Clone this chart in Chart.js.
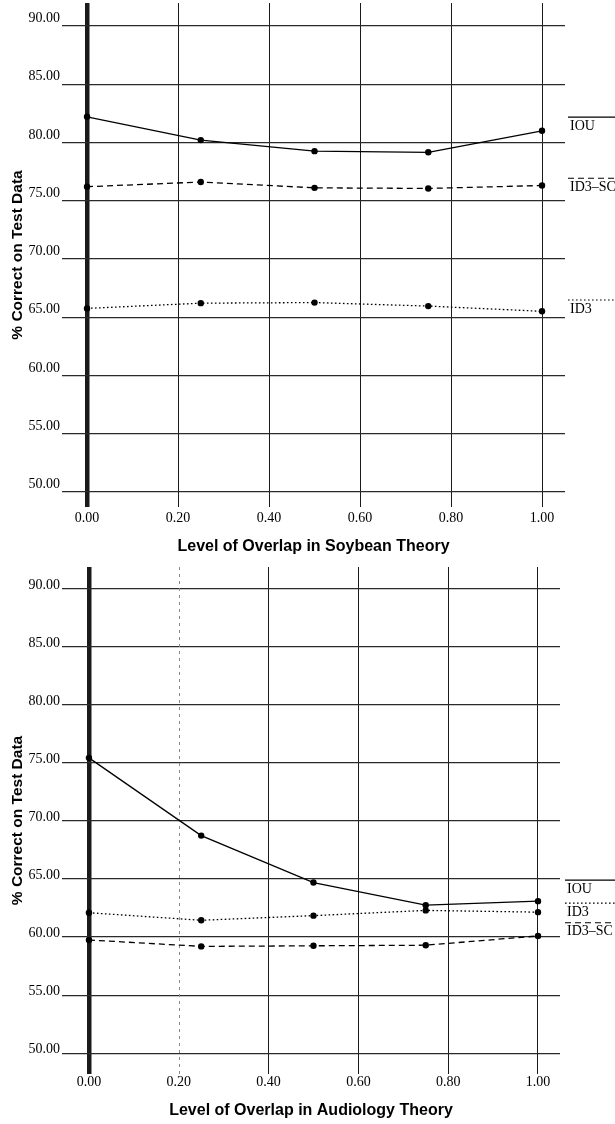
<!DOCTYPE html>
<html><head><meta charset="utf-8">
<script src="https://cdn.jsdelivr.net/npm/chart.js@4.4.1/dist/chart.umd.min.js"></script>
<style>
html,body{margin:0;padding:0;background:#fff;}
canvas{position:absolute;left:0;}
#c1{top:0;}
#c2{top:560px;}
</style></head><body>
<canvas id="c1" width="615" height="560"></canvas>
<canvas id="c2" width="615" height="564"></canvas>
<script>
// ---- data ----
const overlapLevels = [0, 0.25, 0.5, 0.75, 1.0];
const soybeanIOU    = [82.2, 80.2, 79.25, 79.15, 81.0];
const soybeanID3SC  = [76.2, 76.6, 76.1, 76.05, 76.3];
const soybeanID3    = [65.75, 66.2, 66.25, 65.95, 65.5];
const audiologyIOU   = [75.45, 68.75, 64.7, 62.75, 63.1];
const audiologyID3   = [62.1, 61.45, 61.85, 62.3, 62.15];
const audiologyID3SC = [59.75, 59.2, 59.25, 59.3, 60.1];
const xTickValues = [0, 0.2, 0.4, 0.6, 0.8, 1.0];
const yTickValues = [50, 55, 60, 65, 70, 75, 80, 85, 90];
const yAxisTitle = '% Correct on Test Data';
const soybeanTitle = 'Level of Overlap in Soybean Theory';
const audiologyTitle = 'Level of Overlap in Audiology Theory';

// ---- styles ----
const lineDash = { 'IOU': [], 'ID3–SC': [6, 4], 'ID3': [1.6, 2.4] };
const SERIF = '"Liberation Serif", "Times New Roman", serif';
const SANS = '"Liberation Sans", Arial, sans-serif';

function makeDataset(label, values) {
  return {
    label,
    data: overlapLevels.map((x, i) => ({ x, y: values[i] })),
    borderColor: '#000', backgroundColor: '#000',
    borderWidth: 1.3, borderDash: lineDash[label],
    pointRadius: 3.2, pointHoverRadius: 3.2,
    pointBackgroundColor: '#000', pointBorderWidth: 0,
    tension: 0, fill: false
  };
}

const sideLabels = {
  id: 'sideLabels',
  afterDraw(chart, args, opts) {
    const { ctx, chartArea, scales: { y } } = chart;
    ctx.save();
    chart.data.datasets.forEach((ds, i) => {
      const cy = y.getPixelForValue(opts.at[i]);
      const x0 = chartArea.right + opts.gap;
      ctx.strokeStyle = '#000'; ctx.lineWidth = 1.2;
      ctx.setLineDash(ds.borderDash || []);
      ctx.beginPath(); ctx.moveTo(x0, cy - 9); ctx.lineTo(chart.width, cy - 9); ctx.stroke();
      ctx.setLineDash([]);
      ctx.fillStyle = '#000';
      ctx.font = '14px ' + SERIF;
      ctx.textBaseline = 'middle'; ctx.textAlign = 'left';
      ctx.fillText(ds.label, x0 + 2, cy);
    });
    ctx.restore();
  }
};

const faintGrid = {
  id: 'faintGrid',
  beforeDatasetsDraw(chart, args, opts) {
    if (!opts.values || !opts.values.length) return;
    const { ctx, chartArea, scales: { x } } = chart;
    ctx.save();
    ctx.strokeStyle = '#8a8a8a'; ctx.lineWidth = 1; ctx.setLineDash([3, 4]);
    opts.values.forEach(v => {
      const px = Math.round(x.getPixelForValue(v)) + 0.5;
      ctx.beginPath(); ctx.moveTo(px, chartArea.top); ctx.lineTo(px, chartArea.bottom); ctx.stroke();
    });
    ctx.restore();
  }
};

function buildChart(id, datasets, xTitle, c) {
  const isFaint = v => c.faint.some(f => Math.abs(f - v) < 1e-9);
  return new Chart(document.getElementById(id), {
    type: 'line',
    data: { datasets },
    plugins: [faintGrid, sideLabels],
    options: {
      responsive: false, animation: false, devicePixelRatio: 1,
      layout: { autoPadding: false, padding: { top: c.padTop, right: c.padRight, left: 0, bottom: 0 } },
      plugins: {
        legend: { display: false }, tooltip: { enabled: false },
        sideLabels: { at: c.legendAt, gap: c.legendGap },
        faintGrid: { values: c.faint }
      },
      scales: {
        x: {
          type: 'linear', min: c.xMin, max: c.xMax,
          afterBuildTicks: s => { s.ticks = xTickValues.map(v => ({ value: v })); },
          afterFit: s => { s.height = c.xHeight; s.paddingLeft = 0; s.paddingRight = 0; },
          border: { display: false },
          grid: {
            drawTicks: false,
            color: ctx => (ctx.tick && isFaint(ctx.tick.value)) ? 'rgba(0,0,0,0)' : '#1a1a1a',
            lineWidth: ctx => (ctx.tick && ctx.tick.value === 0) ? 4.5 : 1
          },
          ticks: {
            padding: c.xTickPad, color: '#000',
            font: { family: SERIF, size: 14 },
            callback: v => Number(v).toFixed(2)
          },
          title: {
            display: true, text: xTitle, color: '#000',
            font: { family: SANS, size: 16, weight: 'bold' },
            padding: { top: 0, bottom: 3.4 }
          }
        },
        y: {
          type: 'linear', min: c.yMin, max: c.yMax,
          afterBuildTicks: s => { s.ticks = yTickValues.map(v => ({ value: v })); },
          afterFit: s => { s.width = 62; s.paddingTop = 0; s.paddingBottom = 0; },
          border: { display: false },
          grid: { drawTicks: false, color: '#2a2a2a', lineWidth: 1.2 },
          ticks: {
            padding: 2, color: '#000', labelOffset: c.yLabelOffset,
            font: { family: SERIF, size: 14 },
            callback: v => Number(v).toFixed(2)
          },
          title: {
            display: true, text: yAxisTitle, color: '#000',
            font: { family: SANS, size: 15.5, weight: 'bold' },
            padding: { top: 8.7, bottom: 0 }
          }
        }
      }
    }
  });
}

buildChart('c1', [
  makeDataset('IOU', soybeanIOU),
  makeDataset('ID3–SC', soybeanID3SC),
  makeDataset('ID3', soybeanID3)
], soybeanTitle, {
  padTop: 3, padRight: 50, xHeight: 53, xTickPad: 3, yLabelOffset: -7.5,
  xMin: -0.055, xMax: 1.0505, yMin: 48.7, yMax: 91.97,
  legendAt: [81.4, 76.15, 65.7], legendGap: 3, faint: []
});

buildChart('c2', [
  makeDataset('IOU', audiologyIOU),
  makeDataset('ID3', audiologyID3),
  makeDataset('ID3–SC', audiologyID3SC)
], audiologyTitle, {
  padTop: 7, padRight: 55, xHeight: 50, xTickPad: 0, yLabelOffset: -3.5,
  xMin: -0.06, xMax: 1.049, yMin: 48.2, yMax: 91.9,
  legendAt: [64.13, 62.16, 60.46], legendGap: 5, faint: [0.2]
});
</script>
</body></html>
